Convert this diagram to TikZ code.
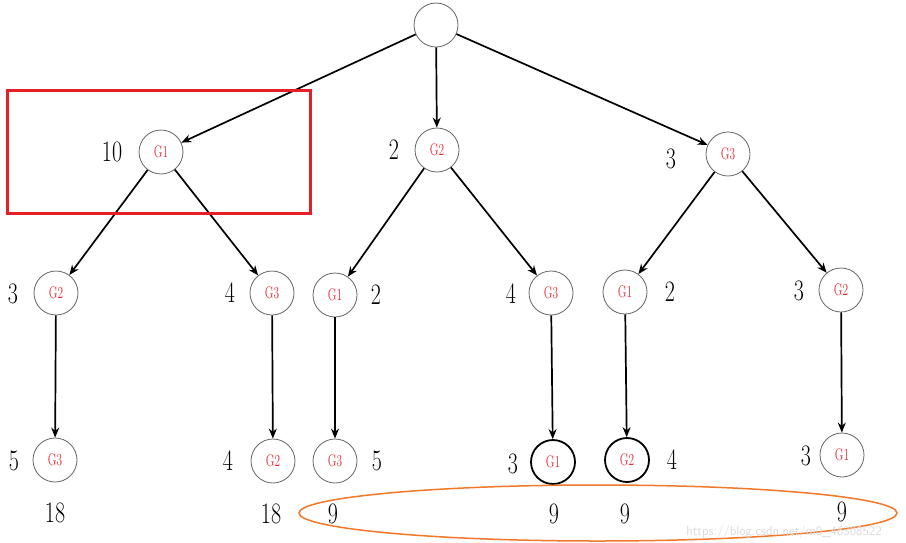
\documentclass[tikz,border=0pt]{standalone}
\usepackage{graphicx}
\usetikzlibrary{arrows.meta}
\definecolor{gred}{RGB}{230,40,55}
\definecolor{boxred}{RGB}{230,30,40}
\definecolor{ellorange}{RGB}{240,120,40}
\definecolor{circgray}{RGB}{100,100,100}
\begin{document}
\begin{tikzpicture}[x=1pt,y=-1pt,
  gnode/.style={circle,draw=circgray,line width=0.8pt,minimum size=44pt,inner sep=0pt,text=gred,font=\fontsize{12}{12}\selectfont},
  gthick/.style={gnode,draw=black,line width=1.8pt},
  num/.style={inner sep=0pt,font=\fontsize{22}{22}\selectfont},
  arr/.style={line width=1.7pt,-{Stealth[length=10pt,width=8pt]}},
]
\useasboundingbox (0,0) rectangle (906,542);
\newcommand{\gl}[1]{\scalebox{0.95}[1.4]{#1}}
\newcommand{\nl}[1]{\scalebox{1}[1.35]{#1}}
% nodes
\node[gnode] (r) at (436,25) {};
\node[gnode] (a) at (161,152) {\gl{G1}};
\node[gnode] (b) at (437,150) {\gl{G2}};
\node[gnode] (c) at (728,154) {\gl{G3}};
\node[gnode] (a1) at (56,293) {\gl{G2}};
\node[gnode] (a2) at (272,293) {\gl{G3}};
\node[gnode] (b1) at (335,295) {\gl{G1}};
\node[gnode] (b2) at (551,293) {\gl{G3}};
\node[gnode] (c1) at (625,292) {\gl{G1}};
\node[gnode] (c2) at (841,290) {\gl{G2}};
\node[gnode] (a11) at (55,460) {\gl{G3}};
\node[gnode] (a21) at (273,461) {\gl{G2}};
\node[gnode] (b11) at (335,461) {\gl{G3}};
\node[gthick] (b21) at (553,462) {\gl{G1}};
\node[gthick] (c11) at (627,460) {\gl{G2}};
\node[gnode] (c21) at (842,455) {\gl{G1}};
% edges
\draw[arr] (r) -- (a);
\draw[arr] (r) -- (b);
\draw[arr] (r) -- (c);
\draw[arr] (a) -- (a1);
\draw[arr] (a) -- (a2);
\draw[arr] (b) -- (b1);
\draw[arr] (b) -- (b2);
\draw[arr] (c) -- (c1);
\draw[arr] (c) -- (c2);
\draw[arr] (a1) -- (a11);
\draw[arr] (a2) -- (a21);
\draw[arr] (b1) -- (b11);
\draw[arr] (b2) -- (b21);
\draw[arr] (c1) -- (c11);
\draw[arr] (c2) -- (c21);
% numbers
\node[num] (n1) at (112,152) {\nl{10}};
\node[num] (n2) at (394,150) {\nl{2}};
\node[num] (n3) at (671,159) {\nl{3}};
\node[num] (n4) at (13,294) {\nl{3}};
\node[num] (n5) at (230,293) {\nl{4}};
\node[num] (n6) at (376,295) {\nl{2}};
\node[num] (n7) at (511,294) {\nl{4}};
\node[num] (n8) at (670,292) {\nl{2}};
\node[num] (n9) at (799,291) {\nl{3}};
\node[num] (n10) at (14,461) {\nl{5}};
\node[num] (n11) at (228,461) {\nl{4}};
\node[num] (n12) at (377,461) {\nl{5}};
\node[num] (n13) at (513,464) {\nl{3}};
\node[num] (n14) at (672,460) {\nl{4}};
\node[num] (n15) at (806,456) {\nl{3}};
\node[num] (s1) at (55,513) {\nl{18}};
\node[num] (s2) at (271,514) {\nl{18}};
\node[num] (s3) at (333,514) {\nl{9}};
\node[num] (s4) at (554,514) {\nl{9}};
\node[num] (s5) at (625,514) {\nl{9}};
\node[num] (s6) at (842,512) {\nl{9}};
% highlights
\draw[boxred,line width=3pt] (7,90) rectangle (310,213);
\draw[ellorange,line width=1.5pt] (598,513) ellipse [x radius=299pt,y radius=28pt];
% watermark
\node[text=black!15,font=\sffamily\fontsize{13}{13}\selectfont,inner sep=0pt] (wm) at (784,532) {https://blog.csdn.net/m0\_46308522};
\end{tikzpicture}
\end{document}
